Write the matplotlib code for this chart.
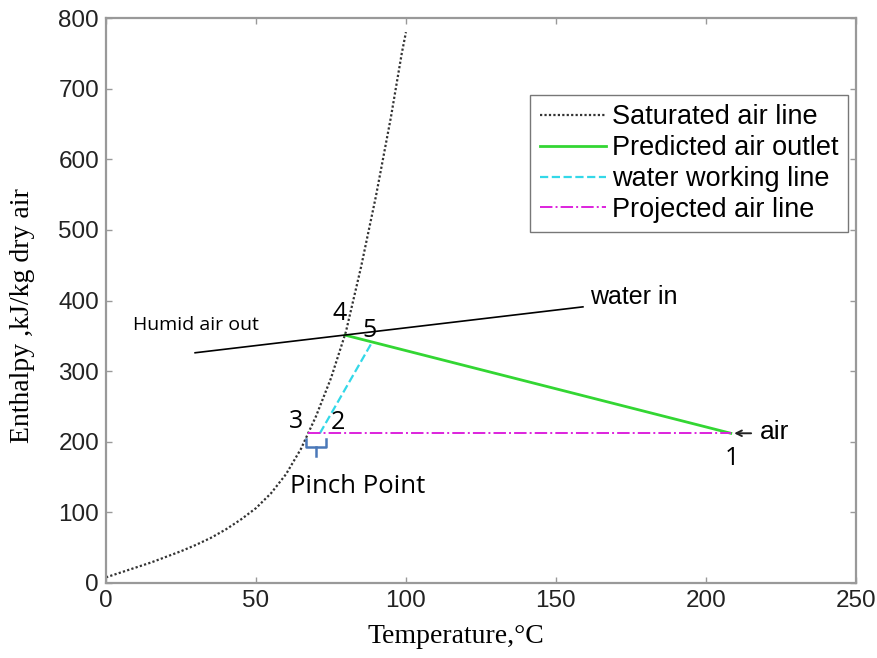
import matplotlib
matplotlib.use("Agg")
import matplotlib.pyplot as plt

# Saturated air enthalpy curve
sat_T = [0, 5, 10, 15, 20, 25, 30, 35, 40, 45, 50, 55, 60, 65, 70, 75, 80, 85, 90, 95, 98.6, 100]
sat_h = [8, 15, 22, 29, 37, 45, 54, 64, 76, 90, 106, 127, 154, 190, 236, 290, 356, 447, 548, 660, 750, 780]

# Predicted air outlet (point 5 region -> point 1)
air_T = [79.7, 208.3]
air_h = [351, 212]

# Water working line (point 2 -> point 5)
water_T = [71.3, 88.7]
water_h = [212, 341]

# Projected air line (point 3 -> point 1)
proj_T = [67.3, 208.3]
proj_h = [212, 212]

# Water-in / humid-air-out guide line
guide_T = [29.7, 159.0]
guide_h = [326, 391]

fig = plt.figure(figsize=(8.77, 6.58), dpi=100)
ax = fig.add_axes([0.1209, 0.114, 0.855, 0.8586])

ax.plot(sat_T, sat_h, linestyle=(0, (1, 1)), color="#333333", lw=1.6,
        label="Saturated air line")
ax.plot(air_T, air_h, "-", color="#33d633", lw=2.0, label="Predicted air outlet")
ax.plot(water_T, water_h, "--", color="#33d8e8", lw=1.6, label="water working line")
ax.plot(proj_T, proj_h, "-.", color="#dd22dd", lw=1.4, label="Projected air line")
ax.plot(guide_T, guide_h, "-", color="black", lw=1.2)

ax.set_xlim(0, 250)
ax.set_ylim(0, 800)
ax.set_xticks([0, 50, 100, 150, 200, 250])
ax.set_yticks(range(0, 801, 100))
ax.tick_params(direction="in", length=4, width=1, color="#999999",
               labelsize=17.5, top=True, right=True, pad=5,
               labelcolor="#222222")
for lbl in ax.get_xticklabels() + ax.get_yticklabels():
    lbl.set_fontfamily("Liberation Sans")
for sp in ax.spines.values():
    sp.set_color("#999999")
    sp.set_linewidth(1.6)

ax.set_xlabel("Temperature,\u00b0C", fontfamily="Liberation Serif",
              fontsize=20, va="center")
ax.xaxis.set_label_coords(0.467, -0.094)
ax.set_ylabel("Enthalpy ,kJ/kg dry air", fontfamily="Liberation Serif",
              fontsize=20, va="center")
ax.yaxis.set_label_coords(-0.112, 0.474)

leg = ax.legend(loc="upper right", bbox_to_anchor=(0.989, 0.864),
                prop={"family": "Liberation Sans", "size": 19.5},
                frameon=True, fancybox=False, handlelength=2.45,
                handletextpad=0.2, borderpad=0.35, labelspacing=0.18,
                borderaxespad=0)
leg.get_frame().set_edgecolor("#555555")
leg.get_frame().set_linewidth(1.0)

cal = "Open Sans"
ax.text(9, 365, "Humid air out", fontfamily=cal, fontsize=14, va="center")
ax.text(161.3, 405, "water in", fontfamily="Liberation Sans", fontsize=18, va="center")
ax.text(78, 382, "4", fontfamily=cal, fontsize=18, ha="center", va="center")
ax.text(88, 357, "5", fontfamily=cal, fontsize=18, ha="center", va="center")
ax.text(63.5, 229, "3", fontfamily=cal, fontsize=18, ha="center", va="center")
ax.text(77.3, 227, "2", fontfamily=cal, fontsize=18, ha="center", va="center")
ax.text(208.5, 176, "1", fontfamily=cal, fontsize=18, ha="center", va="center")
ax.annotate("", xy=(208.5, 212), xytext=(216.0, 212),
            arrowprops=dict(arrowstyle="->", color="#222222", lw=1.4))
ax.text(218.0, 214, "air", fontfamily="Liberation Sans", fontsize=19, va="center")
ax.text(61.3, 137, "Pinch Point", fontfamily=cal, fontsize=18.5, va="center")

# Pinch bracket
bc = "#4a78b8"
ax.plot([66.7, 66.7, 73.3, 73.3], [204, 193, 193, 204], color=bc, lw=1.8)
ax.plot([70, 70], [193, 180], color=bc, lw=1.8)

fig.savefig("out.png", dpi=100)
